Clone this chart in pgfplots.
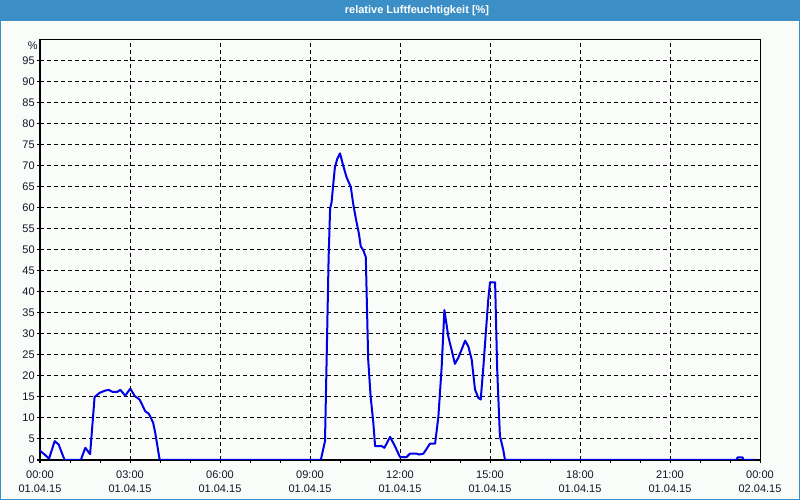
\documentclass[border=0pt]{standalone}
\usepackage{pgfplots}
\pgfplotsset{compat=1.18}
\usepackage{fontspec}
\setmainfont{Liberation Sans}
\definecolor{barblue}{RGB}{60,143,198}
\definecolor{bgc}{RGB}{250,252,250}
\definecolor{lineblue}{RGB}{0,0,230}
\definecolor{txt}{RGB}{20,20,40}
\begin{document}
\begin{tikzpicture}
\useasboundingbox (0,0) rectangle (600pt,375pt);
\fill[bgc] (0,0) rectangle (600pt,375pt);
\fill[barblue] (0,359.6pt) rectangle (600pt,375pt);
\draw[barblue,line width=0.75pt] (0.375pt,0.375pt) rectangle (599.625pt,374.625pt);
\node[text=white,font=\fontsize{8.25pt}{10pt}\selectfont\bfseries] at (312.75pt,367.3pt) {relative Luftfeuchtigkeit [\%]};
\begin{axis}[
  at={(30pt,30pt)}, anchor=south west,
  scale only axis, width=540pt, height=315pt,
  xmin=0, xmax=24, ymin=0, ymax=100,
  xtick={0,3,...,24},
  xticklabels={{00:00\\01.04.15},{03:00\\01.04.15},{06:00\\01.04.15},{09:00\\01.04.15},{12:00\\01.04.15},{15:00\\01.04.15},{18:00\\01.04.15},{21:00\\01.04.15},{00:00\\02.04.15}},
  minor xtick={1,2,4,5,7,8,10,11,13,14,16,17,19,20,22,23},
  ytick={0,5,...,95},
  yticklabels={0,5,10,15,20,25,30,35,40,45,50,55,60,65,70,75,80,85,90,95},
  extra y ticks={100},
  extra y tick labels={\%},
  extra y tick style={major tick length=0pt, grid=none, yticklabel style={yshift=-4.5pt}},
  /pgf/number format/assume math mode=true,
  tick pos=left,
  tick align=outside,
  major tick length=2.25pt, minor tick length=2.25pt,
  tick style={black, line width=0.75pt},
  xmajorgrids, ymajorgrids,
  major grid style={black, line width=0.75pt, dash pattern=on 3pt off 2.25pt},
  axis line style={black, line width=0.75pt},
  xticklabel style={align=center, font=\fontsize{8.25pt}{10.5pt}\selectfont, text=txt, inner sep=0pt, yshift=-6pt},
  yticklabel style={font=\fontsize{8.25pt}{10pt}\selectfont, text=txt, inner sep=0pt, xshift=-1.5pt},
]
\addplot[lineblue, line width=1.5pt, line join=round] coordinates {
(0,2.2)(0.17,1.2)(0.3,0.3)(0.49,4.5)(0.62,3.7)(0.82,0)(1.36,0)(1.51,2.9)(1.67,1.4)
(1.82,15)(1.99,16)(2.16,16.5)(2.29,16.7)(2.43,16.2)(2.57,16.2)(2.68,16.7)(2.84,15.3)
(3.01,17)(3.16,15.2)(3.32,14.4)(3.51,11.6)(3.63,11)(3.77,8.9)(3.84,6.5)(3.99,0)
(9.36,0)(9.5,4.5)(9.56,26)(9.59,37)(9.62,48)(9.67,59.8)(9.72,61.4)(9.78,66)(9.83,69.7)
(9.91,71.7)(10.0,73)(10.11,70)(10.22,67.3)(10.36,65)(10.44,61)(10.53,57.4)(10.63,53.9)
(10.69,50.9)(10.78,49.9)(10.86,48.3)(10.94,23.9)(11.02,15.2)(11.11,8.9)(11.17,3.3)
(11.39,3.3)(11.48,2.9)(11.67,5.5)(11.83,3.3)(12.0,0.7)(12.22,0.7)(12.33,1.5)(12.56,1.5)
(12.63,1.3)(12.78,1.5)(13.0,3.9)(13.17,3.9)(13.28,10.4)(13.39,22.3)(13.48,35.7)
(13.53,33.3)(13.61,29.4)(13.72,26.2)(13.83,22.9)(13.94,24.3)(14.06,26.4)(14.17,28.4)
(14.28,27)(14.39,23.9)(14.5,16.8)(14.61,14.8)(14.69,14.4)(14.78,22.3)(14.86,30.2)
(14.94,38)(15.0,42.3)(15.17,42.3)(15.24,21.5)(15.33,5.7)(15.44,2.5)(15.5,0)
(23.22,0)(23.25,0.6)(23.42,0.6)(23.45,0)(23.83,0)
};
\end{axis}
\end{tikzpicture}
\end{document}
